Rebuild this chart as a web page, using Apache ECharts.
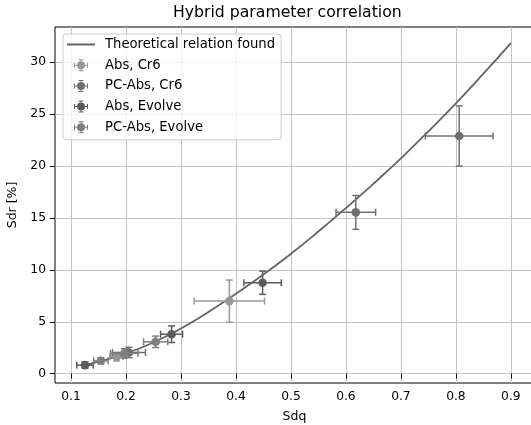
<!DOCTYPE html>
<html><head><meta charset="utf-8">
<script src="https://cdn.jsdelivr.net/npm/echarts@6/dist/echarts.min.js"></script>
<style>html,body{margin:0;padding:0;background:#fff;overflow:hidden}#c{width:531px;height:425px}</style>
</head><body><div id="c"></div>
<script>
// ---- data ----
const xTicks = [0.1, 0.2, 0.3, 0.4, 0.5, 0.6, 0.7, 0.8, 0.9];
const yTicks = [0, 5, 10, 15, 20, 25, 30];

const curveName = 'Theoretical relation found';
const curveX = [0.12, 0.15, 0.2, 0.25, 0.3, 0.35, 0.4, 0.45, 0.5, 0.55, 0.6, 0.65, 0.7, 0.75, 0.8, 0.85, 0.9];
const curveY = [0.75, 1.15, 1.95, 3.0, 4.35, 5.95, 7.7, 9.55, 11.55, 13.7, 15.95, 18.3, 20.75, 23.35, 26.05, 28.9, 31.85];

const groupNames = ['Abs, Cr6', 'PC-Abs, Cr6', 'Abs, Evolve', 'PC-Abs, Evolve'];

const absCr6X = [0.183, 0.388];
const absCr6Y = [1.62, 6.99];
const absCr6Xerr = [0.012, 0.064];
const absCr6Yerr = [0.4, 2.03];

const pcAbsCr6X = [0.2055, 0.618, 0.806];
const pcAbsCr6Y = [2.04, 15.54, 22.9];
const pcAbsCr6Xerr = [0.03, 0.036, 0.0615];
const pcAbsCr6Yerr = [0.5, 1.63, 2.9];

const absEvolveX = [0.1255, 0.283, 0.4485];
const absEvolveY = [0.82, 3.8, 8.76];
const absEvolveXerr = [0.015, 0.02, 0.034];
const absEvolveYerr = [0.3, 0.8, 1.12];

const pcAbsEvolveX = [0.1545, 0.197, 0.254];
const pcAbsEvolveY = [1.24, 1.95, 3.07];
const pcAbsEvolveXerr = [0.013, 0.025, 0.022];
const pcAbsEvolveYerr = [0.3, 0.45, 0.55];

// ---- build ----
const FONT = 'DejaVu Sans';
const colors = ['#989898', '#707070', '#5b5b5b', '#7e7e7e'];
const groups = [
  [absCr6X, absCr6Y, absCr6Xerr, absCr6Yerr],
  [pcAbsCr6X, pcAbsCr6Y, pcAbsCr6Xerr, pcAbsCr6Yerr],
  [absEvolveX, absEvolveY, absEvolveXerr, absEvolveYerr],
  [pcAbsEvolveX, pcAbsEvolveY, pcAbsEvolveXerr, pcAbsEvolveYerr]
];
const ebIcon = 'path://M6 12A8 8 0 1 1 22 12A8 8 0 1 1 6 12Z M0 11H28V13H0Z M0 7H2V17H0Z M26 7H28V17H26Z M13 0H15V24H13Z M9 0H19V2H9Z M9 22H19V24H9Z';
const lineIcon = 'path://M0 0H28V2H0Z';

function renderEB(params, api) {
  const x = api.value(0), y = api.value(1), xe = api.value(2), ye = api.value(3);
  const c = api.visual('color');
  const p = api.coord([x, y]);
  const l = api.coord([x - xe, y]), r = api.coord([x + xe, y]);
  const t = api.coord([x, y + ye]), b = api.coord([x, y - ye]);
  const cap = 3.5;
  const ls = {stroke: c, lineWidth: 1.5};
  return {
    type: 'group',
    children: [
      {type: 'line', shape: {x1: l[0], y1: l[1], x2: r[0], y2: r[1]}, style: ls},
      {type: 'line', shape: {x1: l[0], y1: l[1] - cap, x2: l[0], y2: l[1] + cap}, style: ls},
      {type: 'line', shape: {x1: r[0], y1: r[1] - cap, x2: r[0], y2: r[1] + cap}, style: ls},
      {type: 'line', shape: {x1: t[0], y1: t[1], x2: b[0], y2: b[1]}, style: ls},
      {type: 'line', shape: {x1: t[0] - cap, y1: t[1], x2: t[0] + cap, y2: t[1]}, style: ls},
      {type: 'line', shape: {x1: b[0] - cap, y1: b[1], x2: b[0] + cap, y2: b[1]}, style: ls},
      {type: 'circle', shape: {cx: p[0], cy: p[1], r: 4.3}, style: {fill: c}}
    ]
  };
}

const series = [{
  name: curveName, type: 'line', data: curveX.map((x, i) => [x, curveY[i]]),
  showSymbol: false, smooth: true, color: '#646464',
  lineStyle: {color: '#646464', width: 1.8}, z: 3, silent: true
}];
groups.forEach((g, k) => {
  series.push({
    name: groupNames[k], type: 'custom', renderItem: renderEB,
    itemStyle: {color: colors[k]}, color: colors[k],
    data: g[0].map((x, i) => [x, g[1][i], g[2][i], g[3][i]]),
    encode: {x: 0, y: 1}, z: 4
  });
});

const chart = echarts.init(document.getElementById('c'), null, {renderer: 'canvas'});
chart.setOption({
  animation: false,
  backgroundColor: '#fff',
  title: {
    text: 'Hybrid parameter correlation', left: 173, top: 5, padding: 0,
    textStyle: {fontFamily: FONT, fontSize: 15.7, fontWeight: 'normal', color: '#000'}
  },
  grid: {left: 55, top: 27, width: 479, height: 356, outerBoundsMode: 'none', show: true, borderColor: '#000', borderWidth: 1, backgroundColor: 'transparent', containLabel: false},
  legend: {
    orient: 'vertical', left: 63, top: 34, padding: [4, 6, 6, 4], itemGap: 7.7,
    itemWidth: 28, itemHeight: 12,
    backgroundColor: 'rgba(255,255,255,0.8)', borderColor: '#cccccc', borderWidth: 1, borderRadius: 3,
    textStyle: {fontFamily: FONT, fontSize: 13.2, color: '#000', padding: [0, 0, 0, 5]},
    data: [
      {name: curveName, icon: lineIcon},
      ...groupNames.map(n => ({name: n, icon: ebIcon}))
    ]
  },
  xAxis: {
    type: 'value', min: 0.071, max: 0.942,
    name: 'Sdq', nameLocation: 'middle', nameGap: 27,
    nameTextStyle: {fontFamily: FONT, fontSize: 12.5, color: '#000'},
    axisLine: {show: false},
    axisTick: {show: true, length: 5, customValues: xTicks, lineStyle: {color: '#000', width: 1}},
    axisLabel: {customValues: xTicks, formatter: v => v.toFixed(1), margin: 8, fontFamily: FONT, fontSize: 12.3, color: '#000'},
    splitLine: {show: true, lineStyle: {color: '#c4c4c4', width: 1}}
  },
  yAxis: {
    type: 'value', min: -0.9, max: 33.4,
    name: 'Sdr [%]', nameLocation: 'middle', nameGap: 31, nameRotate: 90,
    nameTextStyle: {fontFamily: FONT, fontSize: 12.5, color: '#000'},
    axisLine: {show: false},
    axisTick: {show: true, length: 5, customValues: yTicks, lineStyle: {color: '#000', width: 1}},
    axisLabel: {customValues: yTicks, formatter: v => String(Math.round(v)), margin: 9, fontFamily: FONT, fontSize: 12.3, color: '#000'},
    splitLine: {show: true, lineStyle: {color: '#c4c4c4', width: 1}}
  },
  series: series
});
</script>
</body></html>
